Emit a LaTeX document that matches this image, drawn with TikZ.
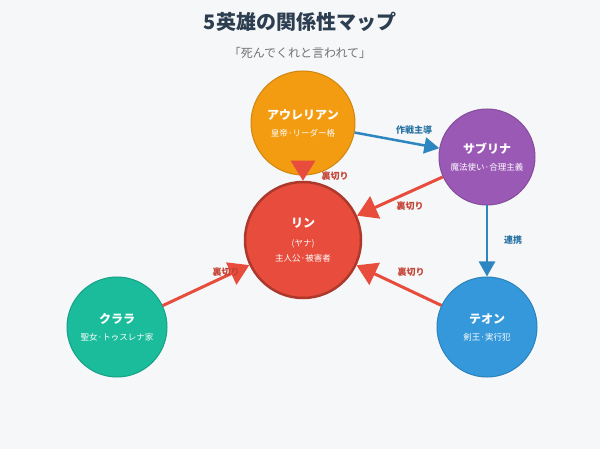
\documentclass[tikz,border=0pt]{standalone}
\usepackage{fontspec}
\setmainfont{Noto Sans CJK JP}
\usetikzlibrary{arrows.meta}
\definecolor{bgc}{HTML}{F5F7F8}
\definecolor{aur}{HTML}{F39C12}
\definecolor{sab}{HTML}{9B59B6}
\definecolor{rin}{HTML}{E74C3C}
\definecolor{cla}{HTML}{1ABC9C}
\definecolor{teo}{HTML}{3498DB}
\definecolor{blu}{HTML}{2E86C1}
\definecolor{ttl}{HTML}{2C3E50}

\begin{document}
\begin{tikzpicture}[x=1pt,y=-1pt,
  person/.style={circle,draw=#1!85!black,line width=1pt,fill=#1,text=white,align=center,font=\fontsize{12}{15}\selectfont\bfseries},
  betray/.style={rin,line width=3pt,-{Triangle[length=20pt,width=24pt]}},
  link/.style={blu,line width=2.5pt,-{Triangle[length=15pt,width=16pt]}},
  lbl/.style={font=\fontsize{9}{11}\selectfont\bfseries}]
\fill [bgc] (0,0) rectangle (600,449);
\useasboundingbox (0,0) rectangle (600,449);
\node [text=ttl,font=\fontsize{20}{24}\selectfont\bfseries] (title) at (300,22) {5英雄の関係性マップ};
\node [text=gray!90!black,font=\fontsize{12}{14}\selectfont] (sub) at (300,53) {「死んでくれと言われて」};

\node [person=aur,minimum size=104pt] (a) at (303,123) {アウレリアン\\[2pt]{\fontsize{8.5}{10}\selectfont\mdseries 皇帝·リーダー格}};
\node [person=sab,minimum size=96pt] (s) at (487,157) {サブリナ\\[2pt]{\fontsize{8.5}{10}\selectfont\mdseries 魔法使い·合理主義}};
\node [person=rin,draw=rin!75!black,line width=2.5pt,minimum size=116pt] (r) at (303,240) {リン\\[4pt]{\fontsize{8.5}{10}\selectfont\mdseries (ヤナ)}\\{\fontsize{8.5}{10}\selectfont\mdseries 主人公·被害者}};
\node [person=cla,minimum size=100pt] (c) at (117,327) {クララ\\[2pt]{\fontsize{8.5}{10}\selectfont\mdseries 聖女·トゥスレナ家}};
\node [person=teo,minimum size=100pt] (t) at (487,327) {テオン\\[2pt]{\fontsize{8.5}{10}\selectfont\mdseries 剣王·実行犯}};

\draw [betray] (a) -- (r);
\draw [betray] (s) -- (r);
\draw [betray] (t) -- (r);
\draw [betray] (c) -- (r);
\draw [link] (a) -- (s);
\draw [link] (s) -- (t);

\node [lbl,text=rin!85!black] (b1) at (335,176) {裏切り};
\node [lbl,text=rin!85!black] (b2) at (410,206) {裏切り};
\node [lbl,text=rin!85!black] (b3) at (411,272) {裏切り};
\node [lbl,text=rin!85!black] (b4) at (226,272) {裏切り};
\node [lbl,text=blu!85!black] (l1) at (414,130) {作戦主導};
\node [lbl,text=blu!85!black] (l2) at (513,240) {連携};
\end{tikzpicture}
\end{document}
